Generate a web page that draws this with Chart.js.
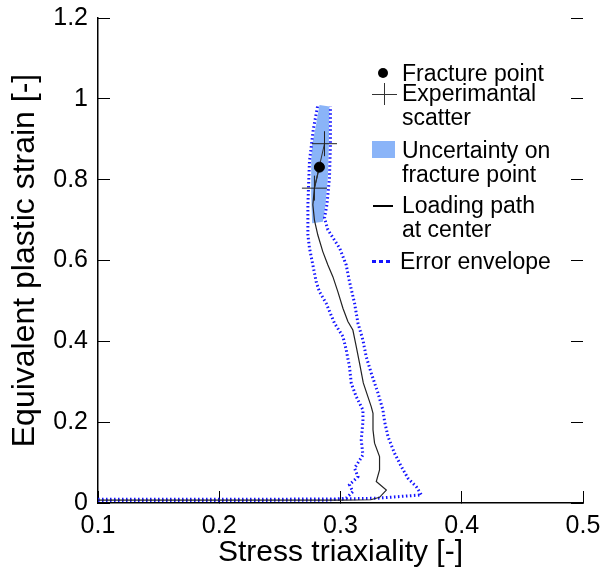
<!DOCTYPE html>
<html><head><meta charset="utf-8">
<script src="https://cdn.jsdelivr.net/npm/chart.js@4"></script>
<style>
html,body{margin:0;padding:0;background:#fff;}
#wrap{position:relative;width:604px;height:575px;}
canvas{position:absolute;left:0;top:0;}
.lt{position:absolute;font-family:"Liberation Sans",Arial,sans-serif;font-size:23px;line-height:24px;color:#000;white-space:nowrap;}
.mk{position:absolute;}
</style></head><body>
<div id="wrap"><canvas id="c" width="604" height="575"></canvas>
<div class="mk" style="left:378px;top:68px;width:10px;height:10px;border-radius:50%;background:#000;"></div>
<div class="lt" style="left:402px;top:61px;">Fracture point</div>
<div class="mk" style="left:372px;top:94px;width:25px;height:1px;background:#333;"></div>
<div class="mk" style="left:384px;top:83px;width:1px;height:22px;background:#333;"></div>
<div class="lt" style="left:402px;top:81px;">Experimantal<br>scatter</div>
<div class="mk" style="left:372px;top:141px;width:23px;height:17px;background:#8ab4f8;"></div>
<div class="lt" style="left:402px;top:138px;">Uncertainty on<br>fracture point</div>
<div class="mk" style="left:373px;top:205px;width:20px;height:2px;background:#000;"></div>
<div class="lt" style="left:402px;top:193px;">Loading path<br>at center</div>
<div class="mk" style="left:372px;top:260px;width:4px;height:3px;background:#1414ff;"></div>
<div class="mk" style="left:379px;top:260px;width:4px;height:3px;background:#1414ff;"></div>
<div class="mk" style="left:386px;top:260px;width:4px;height:3px;background:#1414ff;"></div>
<div class="lt" style="left:400px;top:249px;">Error envelope</div>
</div>
<script>
// Axis settings
const xMin = 0.1, xMax = 0.5, xStep = 0.1;
const yMin = 0, yMax = 1.2, yStep = 0.2;
const xTitle = "Stress triaxiality [-]";
const yTitle = "Equivalent plastic strain [-]";

// Loading path at center
const loadX = [0.100, 0.200, 0.300, 0.325, 0.3322, 0.3378, 0.3295, 0.3322, 0.3322, 0.3281, 0.3268, 0.3268, 0.3254, 0.3188, 0.3157, 0.3130, 0.3102, 0.3061, 0.3020, 0.2978, 0.2937, 0.2896, 0.2854, 0.2813, 0.2785, 0.2772, 0.2785, 0.2826];
const loadY = [0.007, 0.007, 0.007, 0.008, 0.014, 0.032, 0.053, 0.082, 0.115, 0.148, 0.181, 0.222, 0.238, 0.297, 0.346, 0.387, 0.428, 0.449, 0.482, 0.523, 0.560, 0.589, 0.622, 0.663, 0.700, 0.738, 0.779, 0.831];

// Error envelope, left branch
const envLX = [0.100, 0.200, 0.290, 0.3047, 0.3102, 0.3074, 0.3144, 0.3116, 0.3185, 0.3171, 0.3185, 0.3185, 0.3130, 0.3089, 0.3074, 0.3047, 0.3020, 0.2950, 0.2882, 0.2826, 0.2799, 0.2772, 0.2744, 0.2731, 0.2731, 0.2731, 0.2744, 0.2775, 0.2813];
const envLY = [0.006, 0.006, 0.007, 0.012, 0.028, 0.045, 0.065, 0.086, 0.119, 0.156, 0.201, 0.230, 0.263, 0.296, 0.337, 0.379, 0.412, 0.445, 0.494, 0.523, 0.548, 0.589, 0.631, 0.663, 0.700, 0.738, 0.845, 0.923, 0.985];

// Error envelope, right branch
const envRX = [0.100, 0.200, 0.300, 0.331, 0.3667, 0.3626, 0.3557, 0.3502, 0.3446, 0.3392, 0.3364, 0.3350, 0.3309, 0.3254, 0.3212, 0.3185, 0.3144, 0.3116, 0.3074, 0.3047, 0.2992, 0.2896, 0.2868, 0.2888, 0.2909, 0.2917, 0.2917];
const envRY = [0.009, 0.009, 0.010, 0.012, 0.020, 0.040, 0.061, 0.090, 0.123, 0.164, 0.201, 0.230, 0.272, 0.321, 0.362, 0.403, 0.445, 0.494, 0.548, 0.589, 0.631, 0.676, 0.705, 0.738, 0.804, 0.886, 0.981];

// Uncertainty on fracture point (closed region)
const uncX = [0.2766, 0.2758, 0.2758, 0.2766, 0.2793, 0.2827, 0.2909, 0.2904, 0.2896, 0.2876, 0.2855];
const uncY = [0.692, 0.762, 0.845, 0.886, 0.927, 0.985, 0.981, 0.886, 0.804, 0.738, 0.696];

// Experimental scatter
const scatX = [0.2785, 0.2868];
const scatY = [0.779, 0.889];

// Fracture point
const fracX = [0.2826];
const fracY = [0.831];

const pts = (xs, ys) => xs.map((x, i) => ({x: x, y: ys[i]}));
const FONT = '"Liberation Sans", Arial, sans-serif';
const fmt = v => String(Math.round(v * 10) / 10);

new Chart(document.getElementById('c'), {
  type: 'scatter',
  data: {
    datasets: [
      {label: 'Fracture point', data: pts(fracX, fracY), pointRadius: 5, pointBackgroundColor: '#000', pointBorderColor: '#000', showLine: false},
      {label: 'Experimantal scatter', data: pts(scatX, scatY), pointStyle: 'cross', pointRadius: 12.5, pointBorderWidth: 1, pointBorderColor: '#222', showLine: true, borderColor: '#333', borderWidth: 1},
      {label: 'Loading path at center', data: pts(loadX, loadY), showLine: true, pointRadius: 0, borderColor: '#222', borderWidth: 1.2},
      {label: 'Error envelope L', data: pts(envLX, envLY), showLine: true, pointRadius: 0, borderColor: '#1414ff', borderWidth: 3, borderDash: [1.5, 2.5]},
      {label: 'Error envelope R', data: pts(envRX, envRY), showLine: true, pointRadius: 0, borderColor: '#1414ff', borderWidth: 3, borderDash: [1.5, 2.5]},
      {label: 'Uncertainty on fracture point', data: pts(uncX, uncY), showLine: true, pointRadius: 0, borderWidth: 0, borderColor: 'rgba(0,0,0,0)', backgroundColor: '#8ab4f8', fill: 'shape'}
    ]
  },
  options: {
    responsive: false,
    animation: false,
    devicePixelRatio: 1,
    layout: {autoPadding: false, padding: {top: 18, right: 0, bottom: 0, left: 0}},
    plugins: {legend: {display: false}, tooltip: {enabled: false}},
    scales: {
      x: {
        type: 'linear', position: 'bottom', min: xMin, max: xMax,
        ticks: {stepSize: xStep, color: '#000', font: {family: FONT, size: 25}, padding: 20, maxRotation: 0, callback: fmt},
        grid: {drawOnChartArea: false, tickLength: -12, color: '#000', lineWidth: 1},
        border: {display: true, color: '#000', width: 1.5},
        title: {display: true, text: xTitle, color: '#000', font: {family: FONT, size: 30}, padding: {top: 0, bottom: 4}},
        afterFit: s => { s.height = 72; s.paddingLeft = 0; s.paddingRight = 0; }
      },
      y: {
        type: 'linear', position: 'left', min: yMin, max: yMax,
        ticks: {stepSize: yStep, color: '#000', font: {family: FONT, size: 25}, padding: 22, callback: fmt},
        grid: {drawOnChartArea: false, tickLength: -12, color: '#000', lineWidth: 1},
        border: {display: true, color: '#000', width: 1.5},
        title: {display: true, text: yTitle, color: '#000', font: {family: FONT, size: 32}, padding: {top: 6, bottom: 0}},
        afterFit: s => { s.width = 98; s.paddingTop = 0; s.paddingBottom = 0; }
      },
      y2: {
        type: 'linear', position: 'right', min: yMin, max: yMax,
        ticks: {stepSize: yStep, display: false},
        grid: {drawOnChartArea: false, tickLength: -12, color: '#000', lineWidth: 1},
        border: {display: false},
        afterFit: s => { s.width = 21; s.paddingTop = 0; s.paddingBottom = 0; }
      }
    }
  }
});
</script>
</body></html>
